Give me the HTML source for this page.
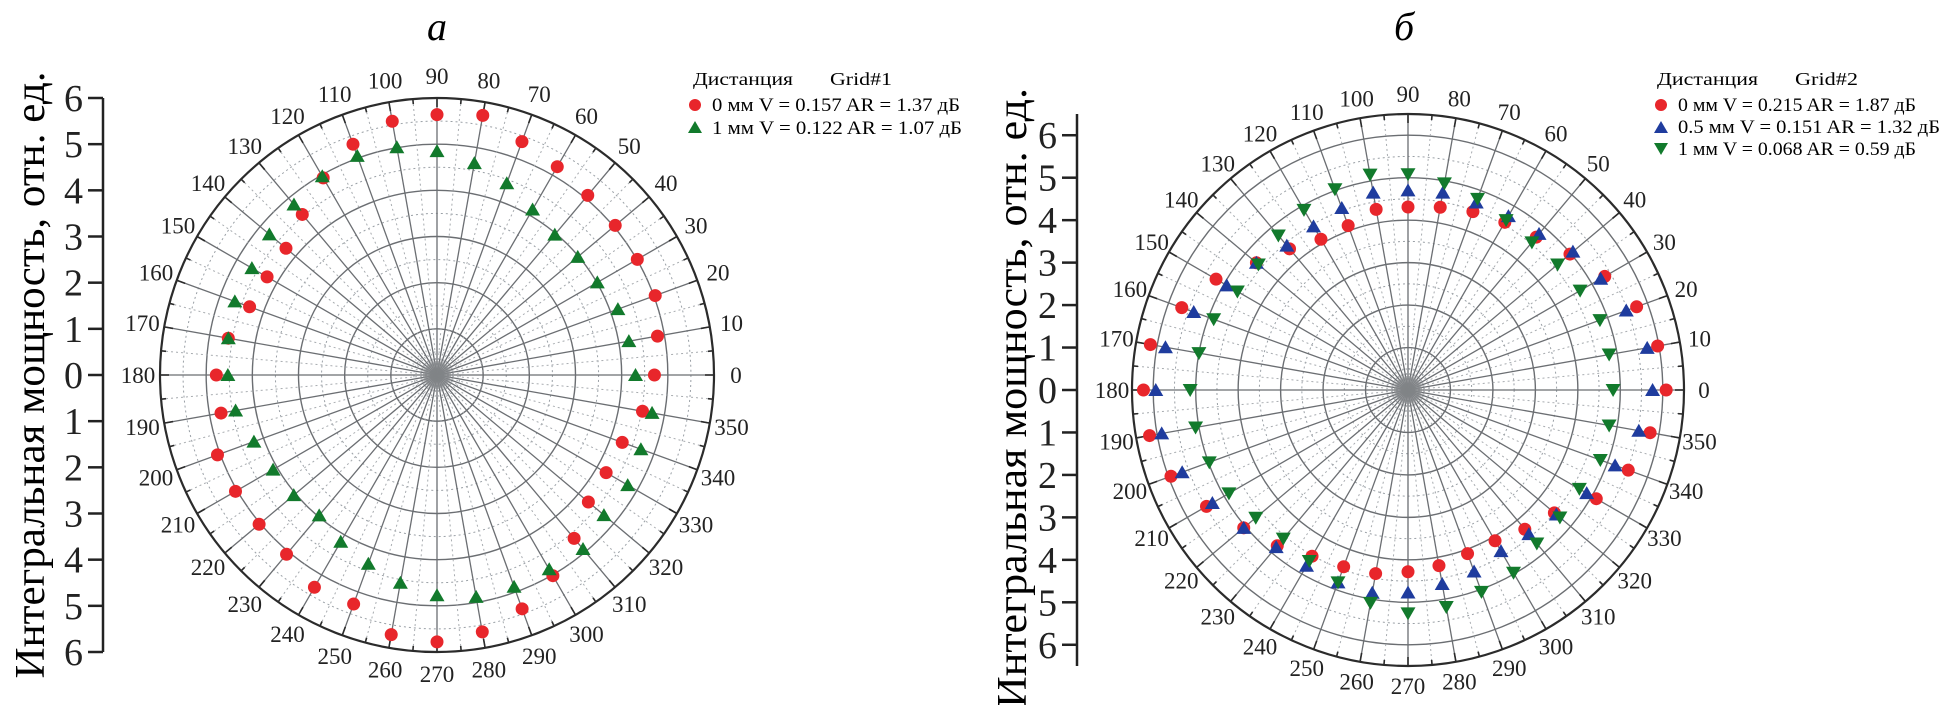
<!DOCTYPE html>
<html><head><meta charset="utf-8"><style>
html,body{margin:0;padding:0;background:#fff;}
svg{display:block;font-family:"Liberation Serif","Noto Serif CJK SC",serif;}
</style></head><body>
<svg id="fig" width="1946" height="705" viewBox="0 0 1946 705" xmlns="http://www.w3.org/2000/svg">
<rect x="0" y="0" width="1946" height="705" fill="#fff"/>
<text x="437" y="40" font-size="40" font-style="italic" text-anchor="middle">а</text>
<text x="1404" y="40" font-size="40" font-style="italic" text-anchor="middle">б</text>
<text transform="translate(44,375) rotate(-90)" font-size="42" text-anchor="middle" textLength="607" lengthAdjust="spacingAndGlyphs">Интегральная мощность, отн. ед.</text>
<text transform="translate(1026,398) rotate(-90)" font-size="42" text-anchor="middle" textLength="620" lengthAdjust="spacingAndGlyphs">Интегральная мощность, отн. ед.</text>
<g id="gA"></g>
<g id="gB"></g>
<g>
<text x="693" y="85" font-size="18" textLength="100" lengthAdjust="spacingAndGlyphs">Дистанция</text>
<text x="830" y="85" font-size="18" textLength="62" lengthAdjust="spacingAndGlyphs">Grid#1</text>
<circle cx="695" cy="105" r="6" fill="#e8262b"/>
<text x="712" y="111" font-size="19" textLength="248" lengthAdjust="spacingAndGlyphs">0 мм V = 0.157 AR = 1.37 дБ</text>
<polygon points="695,121 702,133 688,133" fill="#127a2c"/>
<text x="712" y="134" font-size="19" textLength="250" lengthAdjust="spacingAndGlyphs">1 мм V = 0.122 AR = 1.07 дБ</text>
</g>
<g>
<text x="1657" y="85" font-size="18" textLength="101" lengthAdjust="spacingAndGlyphs">Дистанция</text>
<text x="1795" y="85" font-size="18" textLength="63" lengthAdjust="spacingAndGlyphs">Grid#2</text>
<circle cx="1661" cy="105" r="6" fill="#e8262b"/>
<text x="1678" y="111" font-size="19" textLength="238" lengthAdjust="spacingAndGlyphs">0 мм V = 0.215 AR = 1.87 дБ</text>
<polygon points="1661,121 1668,133 1654,133" fill="#1f3c9e"/>
<text x="1678" y="133" font-size="19" textLength="262" lengthAdjust="spacingAndGlyphs">0.5 мм V = 0.151 AR = 1.32 дБ</text>
<polygon points="1654,143 1668,143 1661,155" fill="#127a2c"/>
<text x="1678" y="155" font-size="19" textLength="238" lengthAdjust="spacingAndGlyphs">1 мм V = 0.068 AR = 0.59 дБ</text>
</g>
</svg>
<script>
const angles = [0,10,20,30,40,50,60,70,80,90,100,110,120,130,140,150,160,170,180,190,200,210,220,230,240,250,260,270,280,290,300,310,320,330,340,350];
const aRed0mm = [4.71,4.85,5.03,5.01,5.04,5.08,5.21,5.38,5.71,5.64,5.58,5.32,4.93,4.54,4.27,4.25,4.32,4.59,4.78,4.75,5.06,5.04,5.03,5.07,5.31,5.28,5.71,5.78,5.65,5.39,5.02,4.62,4.28,4.23,4.27,4.52];
const aGreen1mm = [4.30,4.22,4.17,4.01,3.98,3.97,4.14,4.42,4.66,4.85,5.01,5.05,4.97,4.82,4.74,4.63,4.66,4.59,4.53,4.43,4.22,4.10,4.05,3.97,4.17,4.35,4.57,4.77,4.88,4.88,4.86,4.92,4.72,4.77,4.70,4.73];
const bRed0mm = [6.08,5.97,5.73,5.35,4.98,4.70,4.56,4.47,4.37,4.31,4.32,4.12,4.10,4.34,4.66,5.22,5.67,6.16,6.23,6.18,5.94,5.48,5.05,4.79,4.52,4.43,4.39,4.28,4.20,4.10,4.10,4.28,4.50,5.12,5.52,5.79];
const bBlue05mm = [5.76,5.72,5.47,5.24,5.07,4.80,4.73,4.70,4.72,4.70,4.72,4.56,4.45,4.44,4.66,4.93,5.37,5.80,5.94,5.89,5.66,5.32,5.05,4.83,4.78,4.82,4.85,4.77,4.64,4.55,4.38,4.43,4.56,4.86,5.19,5.52];
const bGreen1mm = [4.83,4.81,4.81,4.68,4.60,4.54,4.62,4.79,4.94,5.08,5.15,5.03,4.90,4.75,4.60,4.64,4.87,5.00,5.13,5.08,4.98,4.87,4.68,4.57,4.65,4.82,5.09,5.26,5.19,5.06,4.97,4.72,4.67,4.66,4.82,4.81];
const axisTicksA = [6,5,4,3,2,1,0,1,2,3,4,5,6];
const axisTicksB = [6,5,4,3,2,1,0,1,2,3,4,5,6];

const NS = "http://www.w3.org/2000/svg";
function mk(tag, attrs, parent){const e=document.createElementNS(NS,tag);for(const k in attrs)e.setAttribute(k,attrs[k]);parent.appendChild(e);return e;}

function drawChart(g, cfg, series, tag){
  const {cx,cy,R,maxV,axisX,labelR} = cfg;
  const unit = R/maxV;
  const px = (a,v)=> cx + v*unit*Math.cos(a*Math.PI/180);
  const py = (a,v)=> cy - v*unit*Math.sin(a*Math.PI/180);
  // dotted rings
  for(let v=0.5; v<maxV; v+=1){
    const c=mk('circle',{cx:cx,cy:cy,r:v*unit,fill:'none',stroke:'#9aa0a6','stroke-width':1,'stroke-dasharray':'2,3'},g);
    
    
  }
  for(let v=1; v<maxV; v+=1){
    const c=mk('circle',{cx:cx,cy:cy,r:v*unit,fill:'none',stroke:'#6b6e72','stroke-width':1.4},g);
    
    
  }
  for(let a=5;a<360;a+=10){
    const l=mk('line',{x1:cx,y1:cy,x2:px(a,maxV),y2:py(a,maxV),stroke:'#a8acb0','stroke-width':1,'stroke-dasharray':'2,3'},g);
    
    
  }
  for(let a=0;a<360;a+=10){
    const l=mk('line',{x1:cx,y1:cy,x2:px(a,maxV),y2:py(a,maxV),stroke:'#6b6e72','stroke-width':1.3},g);
    
    
  }
  mk('circle',{cx:cx,cy:cy,r:14,fill:'#8a8d90',opacity:0.7},g);
  const oc=mk('circle',{cx:cx,cy:cy,r:R,fill:'none',stroke:'#2b2b2b','stroke-width':2.2},g);
  
  
  for(let a=0;a<360;a+=5){
    const len = a%10===0?9:5;
    mk('line',{x1:px(a,maxV),y1:py(a,maxV),x2:px(a,maxV-len/unit),y2:py(a,maxV-len/unit),stroke:'#2b2b2b','stroke-width':1.6},g);
  }
  angles.forEach(a=>{
    const t=mk('text',{x:cx+(R+labelR)*Math.cos(a*Math.PI/180),y:cy-(R+labelR)*Math.sin(a*Math.PI/180)+8,'font-size':23,'text-anchor':'middle',fill:'#222'},g);
    t.textContent=String(a);
    
    
  });
  // y axis
  const ax=mk('line',{x1:axisX,y1:cy-R,x2:axisX,y2:cy+R,stroke:'#222','stroke-width':2.5},g);
  
  
  const ticks = tag==='a'?axisTicksA:axisTicksB;
  ticks.forEach((v,i)=>{
    const y = cy + (i-6)*unit;
    mk('line',{x1:axisX-15,y1:y,x2:axisX,y2:y,stroke:'#222','stroke-width':2.5},g);
    const t=mk('text',{x:axisX-20,y:y+13,'font-size':38,'text-anchor':'end',fill:'#222'},g);
    t.textContent=String(v);
    
    
  });
  series.forEach(s=>{
    s.data.forEach((v,i)=>{
      const a=angles[i], x=px(a,v), y=py(a,v);
      let m;
      if(s.shape==='circle') m=mk('circle',{cx:x,cy:y,r:6.5,fill:s.color},g);
      else if(s.shape==='up') m=mk('polygon',{points:`${x},${y-7} ${x+7.5},${y+6} ${x-7.5},${y+6}`,fill:s.color},g);
      else m=mk('polygon',{points:`${x-7.5},${y-6} ${x+7.5},${y-6} ${x},${y+7}`,fill:s.color},g);
      
      
    });
  });
}
drawChart(document.getElementById('gA'),{cx:437,cy:375,R:277,maxV:6,axisX:103,labelR:22},[
  {data:aRed0mm,color:'#e8262b',shape:'circle',name:'a-0mm'},
  {data:aGreen1mm,color:'#127a2c',shape:'up',name:'a-1mm'}],'a');
drawChart(document.getElementById('gB'),{cx:1408,cy:390,R:276,maxV:6.5,axisX:1077,labelR:20},[
  {data:bRed0mm,color:'#e8262b',shape:'circle',name:'b-0mm'},
  {data:bBlue05mm,color:'#1f3c9e',shape:'up',name:'b-05mm'},
  {data:bGreen1mm,color:'#127a2c',shape:'down',name:'b-1mm'}],'b');
</script>
</body></html>
